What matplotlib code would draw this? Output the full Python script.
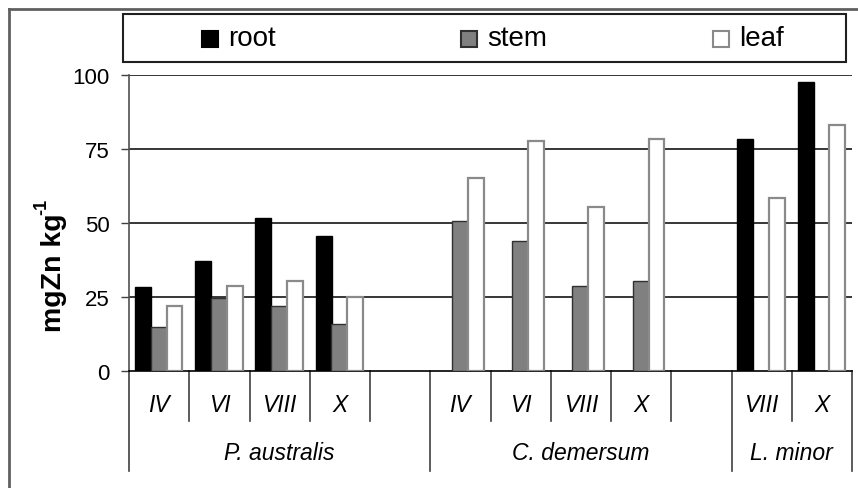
import numpy as np
import matplotlib
matplotlib.use("Agg")
import matplotlib.pyplot as plt
from matplotlib.patches import Rectangle
from matplotlib.lines import Line2D

plt.rcParams['font.family'] = ['Liberation Sans', 'DejaVu Sans']

# ---- data ----
groups = ["P. australis", "C. demersum", "L. minor"]
periods = [["IV", "VI", "VIII", "X"], ["IV", "VI", "VIII", "X"], ["VIII", "X"]]
group_slots = [5, 5, 2]          # number of category slots per group (incl. empty)
root = [28.3, 37.3, 51.7, 45.7, np.nan, np.nan, np.nan, np.nan, 78.4, 97.7]
stem = [14.9, 24.6, 22.1, 16.0, 50.7, 43.8, 28.8, 30.5, np.nan, np.nan]
leaf = [22.1, 28.8, 30.5, 25.1, 65.1, 77.7, 55.4, 78.4, 58.3, 83.2]
series_names = ["root", "stem", "leaf"]
yticks = [0, 25, 50, 75, 100]

W, H = 858, 489
fig = plt.figure(figsize=(W / 100, H / 100), dpi=100)

def fx(x):
    return x / W

def fy(y):
    return 1 - y / H

ax_l, ax_r, ax_t, ax_b = 129, 852, 76, 372
ax = fig.add_axes([fx(ax_l), fy(ax_b), fx(ax_r) - fx(ax_l), fy(ax_t) - fy(ax_b)])

# slot positions
centers = []
labels = []
slot = 0
group_bounds = [0]
for g, per in enumerate(periods):
    for p in per:
        centers.append(slot + 0.5)
        labels.append(p)
        slot += 1
    slot = group_bounds[-1] + group_slots[g]
    group_bounds.append(slot)
centers = np.array(centers)
nslots = group_bounds[-1]

bw = 0.265
styles = [
    dict(color="black", edgecolor="black", linewidth=1.0),
    dict(color="#808080", edgecolor="#303030", linewidth=1.0),
    dict(color="white", edgecolor="#8a8a8a", linewidth=1.6),
]
offsets = [-0.27, -0.01, 0.255]
for vals, st, off in zip([root, stem, leaf], styles, offsets):
    ax.bar(centers + off, vals, width=bw, zorder=3, **st)

ax.set_xlim(0, nslots)
ax.set_ylim(0, 100)
ax.set_yticks(yticks)
ax.set_yticklabels([str(t) for t in yticks], fontsize=16)
ax.tick_params(axis='y', direction='out', length=6, width=1, pad=8, color='#404040')
ax.set_xticks([])
for t in yticks[1:]:
    ax.axhline(t, color="black", linewidth=1.1, zorder=1)
for s in ["top", "right"]:
    ax.spines[s].set_visible(False)
ax.spines["left"].set_color("#505050")
ax.spines["left"].set_linewidth(1.2)
ax.spines["bottom"].set_color("black")
ax.spines["bottom"].set_linewidth(1.2)

tr = ax.get_xaxis_transform()
short = -50 / (ax_b - ax_t)
long_ = -100 / (ax_b - ax_t)
for b in range(nslots + 1):
    ylow = long_ if b in group_bounds else short
    ax.plot([b, b], [0, ylow], color="#404040", linewidth=1.2, transform=tr, clip_on=False)

for c, lab in zip(centers, labels):
    ax.text(c, -33 / (ax_b - ax_t), lab, transform=tr, ha="center", va="center",
            fontsize=16.5, style="italic")
for g, name in enumerate(groups):
    gc = (group_bounds[g] + group_bounds[g + 1]) / 2
    ax.text(gc, -81 / (ax_b - ax_t), name, transform=tr, ha="center", va="center",
            fontsize=16.5, style="italic")

# y label (with superscript drawn as separate text)
fig.text(fx(54), fy(273), "mgZn kg", rotation=90, ha="center", va="center",
         fontsize=20.5, fontweight="bold")
fig.text(fx(42), fy(207), "-1", rotation=90, ha="center", va="center",
         fontsize=13, fontweight="bold")

# outer frame
fig.add_artist(Line2D([fx(9), fx(9)], [fy(10), 0], color="#606060", linewidth=2))
fig.add_artist(Line2D([fx(9), 1], [fy(10), fy(10)], color="#606060", linewidth=2))

# legend box
fig.add_artist(Rectangle((fx(123), fy(63)), fx(846) - fx(123), fy(15) - fy(63),
                         transform=fig.transFigure, facecolor="white", edgecolor="#202020",
                         linewidth=1.5))
leg_x = [202, 461, 713]
for name, st, lx in zip(series_names, styles, leg_x):
    fig.add_artist(Rectangle((fx(lx), fy(48)), fx(lx + 16) - fx(lx), fy(32) - fy(48),
                             transform=fig.transFigure, facecolor=st["color"],
                             edgecolor=st["edgecolor"], linewidth=1.5))
    fig.text(fx(lx + 26), fy(39), name, ha="left", va="center", fontsize=20)

fig.savefig("out.png", dpi=100)
